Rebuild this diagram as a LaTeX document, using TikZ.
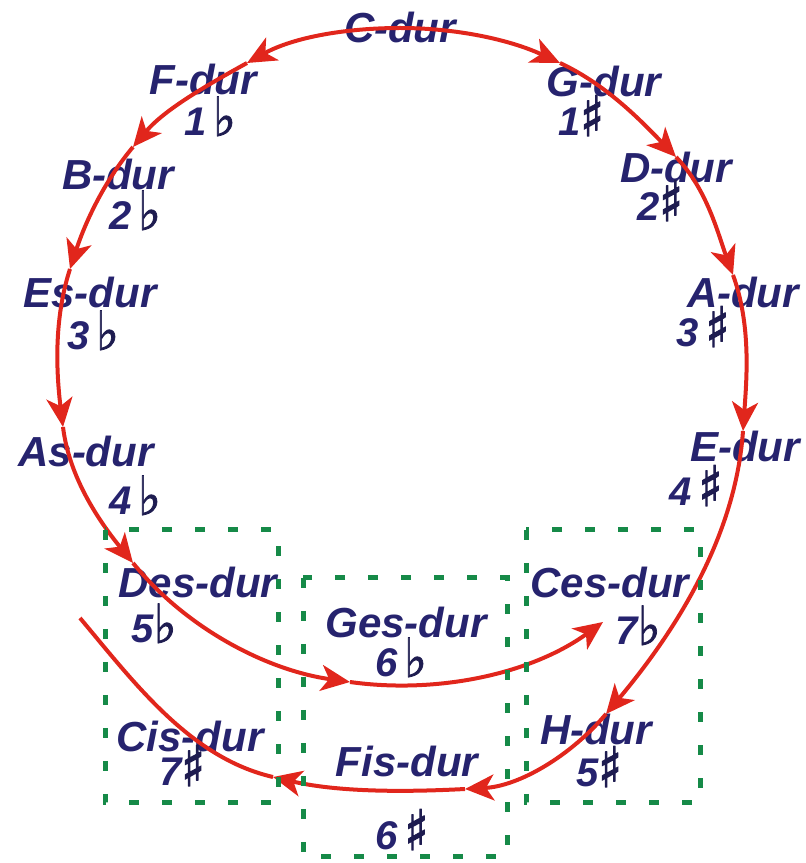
\documentclass[tikz,border=0pt]{standalone}
\usepackage{graphicx}
\usepackage{fontspec}
\setmainfont{Liberation Sans}
\newfontfamily\flatfont[FakeBold=1.5]{DejaVu Sans}
\newfontfamily\sharpfont[FakeBold=2.5]{DejaVu Sans}
\usetikzlibrary{arrows.meta}
\definecolor{navy}{RGB}{38,35,110}
\definecolor{accnavy}{RGB}{30,28,80}
\definecolor{arrowred}{RGB}{225,38,28}
\definecolor{boxgreen}{RGB}{22,138,72}
\newcommand{\mflat}{{\color{accnavy}\scalebox{1.35}[1.5]{\flatfont\upshape\mdseries\fontsize{36}{36}\selectfont ♭}}}
\newcommand{\msharp}{{\color{accnavy}\scalebox{1.35}[1.55]{\sharpfont\upshape\mdseries\fontsize{36}{36}\selectfont ♯}}}
\tikzset{
  keyname/.style={anchor=base, inner sep=0pt, text=navy,
    font=\fontsize{42}{42}\selectfont\bfseries\itshape},
  keysig/.style={anchor=base, inner sep=0pt, text=navy,
    font=\fontsize{40}{40}\selectfont\bfseries\itshape},
  fifth/.style={draw=arrowred, line width=4pt, looseness=0.87,
    -{Stealth[length=29pt,width=26pt,inset=8pt]}},
  plainfifth/.style={draw=arrowred, line width=4pt, looseness=0.87},
  keybox/.style={draw=boxgreen, line width=5pt, dash pattern=on 10pt off 23pt},
}
\begin{document}
\begin{tikzpicture}[x=1pt,y=1pt]
\useasboundingbox (0,0) rectangle (806,863);
% key names
\node[keyname] (C)   at (400,820) {C-dur};
\node[keyname] (F)   at (203,768) {F-dur};
\node[keyname] (G)   at (604,766) {G-dur};
\node[keyname] (B)   at (118,673) {B-dur};
\node[keyname] (D)   at (676,680) {D-dur};
\node[keyname] (Es)  at (90,555)  {Es-dur};
\node[keyname] (A)   at (743,555) {A-dur};
\node[keyname] (As)  at (86,396)  {As-dur};
\node[keyname] (E)   at (745,401) {E-dur};
\node[keyname] (Des) at (198,265) {Des-dur};
\node[keyname] (Ges) at (406,225) {Ges-dur};
\node[keyname] (Ces) at (610,265) {Ces-dur};
\node[keyname] (Cis) at (190,111) {Cis-dur};
\node[keyname] (H)   at (596,118) {H-dur};
\node[keyname] (Fis) at (407,86)  {Fis-dur};
% signatures
\node[keysig] (F2)   at (210,727) {1\,\mflat};
\node[keysig] (G2)   at (581,727) {1\msharp};
\node[keysig] (B2)   at (135,633) {2\,\mflat};
\node[keysig] (D2)   at (660,642) {2\msharp};
\node[keysig] (Es2)  at (93,513)  {3\,\mflat};
\node[keysig] (A2)   at (703,516) {3\,\msharp};
\node[keysig] (As2)  at (135,348) {4\,\mflat};
\node[keysig] (E2)   at (696,357) {4\,\msharp};
\node[keysig] (Des2) at (154,220) {5\mflat};
\node[keysig] (Ges2) at (401,186) {6\,\mflat};
\node[keysig] (Ces2) at (638,218) {7\mflat};
\node[keysig] (Cis2) at (182,77)  {7\msharp};
\node[keysig] (H2)   at (599,76)  {5\msharp};
\node[keysig] (Fis2) at (402,13)  {6\,\msharp};
% points on the circle
\coordinate (c0) at (400,835);
\coordinate (L1) at (247,800);
\coordinate (L2) at (133,716);
\coordinate (L3) at (70,594);
\coordinate (L4) at (63,436);
\coordinate (L5) at (133,300);
\coordinate (L6) at (350,181);
\coordinate (L7) at (603,241);
\coordinate (R1) at (560,800);
\coordinate (R2) at (676,706);
\coordinate (R3) at (733,588);
\coordinate (R4) at (743,432);
\coordinate (R5) at (606,149);
\coordinate (R6) at (465,74);
\coordinate (R7) at (273,86);
\coordinate (R8) at (80,245);
% flats side
\path[fifth] (c0) to[out=180,in=29] (L1);
\path[fifth] (L1) to[out=209,in=50] (L2);
\path[fifth] (L2) to[out=230,in=72] (L3);
\path[fifth] (L3) to[out=252,in=97] (L4);
\path[fifth] (L4) to[out=277,in=129] (L5);
\path[fifth] (L5) to[out=309,in=172] (L6);
\path[fifth] (L6) to[out=352,in=216] (L7);
% sharps side
\path[fifth] (c0) to[out=0,in=155] (R1);
\path[fifth] (R1) to[out=-25,in=134] (R2);
\path[fifth] (R2) to[out=-46,in=110] (R3);
\path[fifth] (R3) to[out=-70,in=86] (R4);
\path[fifth] (R4) to[out=-94,in=50] (R5);
\path[fifth] (R5) to[out=-130,in=3] (R6);
\path[fifth] (R6) to[out=183,in=-13] (R7);
\path[plainfifth] (R7) to[out=167,in=-50] (R8);
% enharmonic boxes
\draw[keybox] (105,333) rectangle (278,60);
\draw[keybox] (303,285) rectangle (507,6);
\draw[keybox] (526,333) rectangle (700,60);
\end{tikzpicture}
\end{document}
